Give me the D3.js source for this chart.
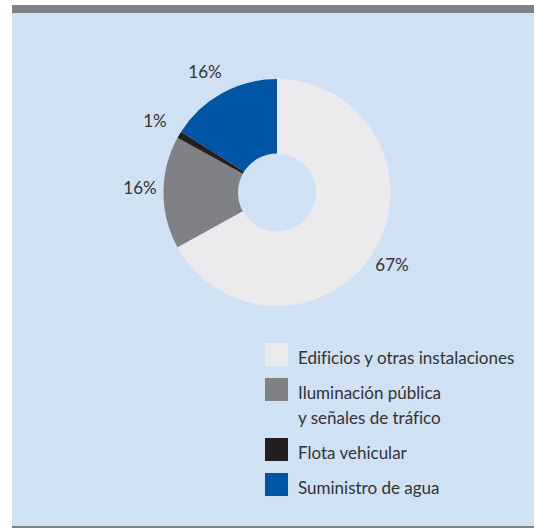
<!DOCTYPE html>
<html><head><meta charset="utf-8">
<script src="https://cdn.jsdelivr.net/npm/d3@7"></script>
<style>body{margin:0;background:#fff}svg{display:block}</style>
</head><body>
<svg id="c" width="534" height="528"></svg>
<script>
const categories = ["Edificios y otras instalaciones", "Iluminación pública\ny señales de tráfico", "Flota vehicular", "Suministro de agua"];
const values = [67, 16, 1, 16];
const labels = ["67%", "16%", "1%", "16%"];
const colors = ["#ebebed", "#808185", "#231f20", "#0055a4"];

const svg = d3.select("#c");
const font = "Lato,'Open Sans',sans-serif";
svg.append("rect").attr("x",12).attr("y",5).attr("width",522).attr("height",523).attr("fill","#cfe1f2");
svg.append("rect").attr("x",12).attr("y",5).attr("width",522).attr("height",8).attr("fill","#808184");
svg.append("rect").attr("x",12).attr("y",526).attr("width",522).attr("height",2).attr("fill","#808184");

const cx = 277, cy = 192.5, R = 113.5, r = 39;
const pie = d3.pie().sort(null).value(d=>d);
const arcs = pie(values);
const arc = d3.arc().innerRadius(r).outerRadius(R);
const g = svg.append("g").attr("transform",`translate(${cx},${cy})`);
g.selectAll("path").data(arcs).enter().append("path").attr("d",arc).attr("fill",(d,i)=>colors[i]);

const labelPos = [[392,271],[140,194],[155,127],[205,78]];
svg.selectAll("text.lbl").data(labels).enter().append("text").attr("class","lbl")
  .attr("x",(d,i)=>labelPos[i][0]).attr("y",(d,i)=>labelPos[i][1])
  .attr("text-anchor","middle").attr("font-family",font).attr("font-size",17)
  .attr("fill","#333335").text(d=>d);

const legY = [343, 378, 438, 473];
const lg = svg.append("g");
categories.forEach((c,i)=>{
  lg.append("rect").attr("x",265).attr("y",legY[i]).attr("width",23).attr("height",23).attr("fill",colors[i]);
  const lines = c.split("\n");
  const t = lg.append("text").attr("font-family",font).attr("font-size",17).attr("fill","#333335")
    .style("font-variant-ligatures","none");
  lines.forEach((ln,j)=>{
    t.append("tspan").attr("x",298).attr("y",legY[i]+21+j*25).text(ln);
  });
});
</script>
</body></html>
